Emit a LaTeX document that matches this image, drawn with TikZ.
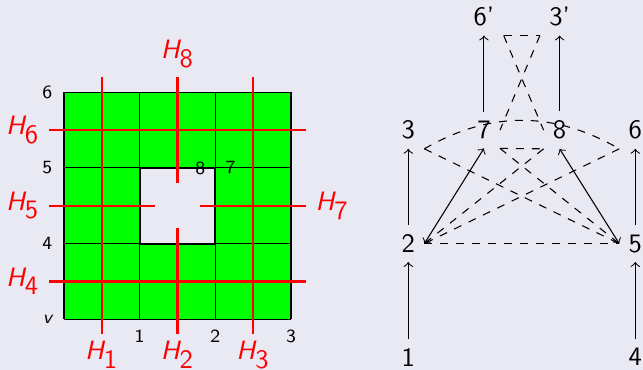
\documentclass[tikz,border=0pt]{standalone}
\usepackage{tikz}
\definecolor{slidebg}{RGB}{233,233,243}
\definecolor{cutred}{RGB}{255,0,0}
\newcommand{\cutname}[1]{$\textsf{\slshape H}_{\textsf{#1}}$}

\begin{document}
\begin{tikzpicture}[
  font=\sffamily,
  cut/.style={draw=cutred, line width=0.8pt},
  cutlabel/.style={text=cutred, font=\sffamily},
  tick/.style={font=\sffamily\fontsize{7}{8}\selectfont, inner sep=0pt},
  vert/.style={font=\sffamily},
  arrow/.style={->},
  dual/.style={dashed},
]
  % Background
  \fill[slidebg] (-0.846,-0.67) rectangle (7.652,4.22);
  \useasboundingbox (-0.846,-0.67) rectangle (7.652,4.22);

  % Green square with its hole
  \fill[green, even odd rule] (0,0) rectangle (3,3) (1,1) rectangle (2,2);
  \draw (0,0) grid (3,3);
  \draw[thick] (1,1) rectangle (2,2);

  % Tick labels
  \node[tick] (v) at (-0.22,0) {\slshape v};
  \foreach \i in {1,2,3} {
    \node[tick] (x\i) at (\i,-0.22) {\i};
  }
  \node[tick] (y4) at (-0.22,1) {4};
  \node[tick] (y5) at (-0.22,2) {5};
  \node[tick] (y6) at (-0.22,3) {6};
  \node[tick] (c8) at (1.8,2) {8};
  \node[tick] (c7) at (2.2,2) {7};

  % Cut lines
  \coordinate (b1) at (0.5,-0.2);  \coordinate (t1) at (0.5,3.2);
  \coordinate (b2) at (1.5,-0.2);  \coordinate (m2) at (1.5,1.2);
  \coordinate (b3) at (2.5,-0.2);  \coordinate (t3) at (2.5,3.2);
  \coordinate (l4) at (-0.2,0.5);  \coordinate (r4) at (3.2,0.5);
  \coordinate (l5) at (-0.2,1.5);  \coordinate (m5) at (1.2,1.5);
  \coordinate (l6) at (-0.2,2.5);  \coordinate (r6) at (3.2,2.5);
  \coordinate (m7) at (1.8,1.5);   \coordinate (r7) at (3.2,1.5);
  \coordinate (m8) at (1.5,1.8);   \coordinate (t8) at (1.5,3.2);
  \draw[cut] (t1) -- (b1);
  \draw[cut] (m2) -- (b2);
  \draw[cut] (t3) -- (b3);
  \draw[cut] (r4) -- (l4);
  \draw[cut] (m5) -- (l5);
  \draw[cut] (r6) -- (l6);
  \draw[cut] (m7) -- (r7);
  \draw[cut] (m8) -- (t8);
  \node[cutlabel, below=-1pt] (h1) at (b1) {\cutname{1}};
  \node[cutlabel, below=-1pt] (h2) at (b2) {\cutname{2}};
  \node[cutlabel, below=-1pt] (h3) at (b3) {\cutname{3}};
  \node[cutlabel, left] (h4) at (l4) {\cutname{4}};
  \node[cutlabel, left] (h5) at (l5) {\cutname{5}};
  \node[cutlabel, left] (h6) at (l6) {\cutname{6}};
  \node[cutlabel, right] (h7) at (r7) {\cutname{7}};
  \node[cutlabel, above] (h8) at (t8) {\cutname{8}};

  % Graph vertices
  \node[vert] (n1) at (4.55,-0.5) {1};
  \node[vert] (n2) at (4.55,1) {2};
  \node[vert] (n3) at (4.55,2.5) {3};
  \node[vert] (n4) at (7.55,-0.5) {4};
  \node[vert] (n5) at (7.55,1) {5};
  \node[vert] (n6) at (7.55,2.5) {6};
  \node[vert] (n7) at (5.55,2.5) {7};
  \node[vert] (n8) at (6.55,2.5) {8};
  \node[vert] (n6p) at (5.55,4) {6'};
  \node[vert] (n3p) at (6.55,4) {3'};

  % Solid edges
  \draw[arrow] (n1) -- (n2);
  \draw[arrow] (n2) -- (n3);
  \draw[arrow] (n4) -- (n5);
  \draw[arrow] (n5) -- (n6);
  \draw[arrow] (n7) -- (n6p);
  \draw[arrow] (n8) -- (n3p);
  \draw[<->] (n2.east) -- (n7.south);
  \draw[<->] (n5.west) -- (n8.south);

  % Dashed edges
  \draw[dual] (n2.east) -- (n5.west);
  \draw[dual] (n3.south east) -- (n5.west);
  \draw[dual] (n7.south east) -- (n5.west);
  \draw[dual] (n6.south west) -- (n2.east);
  \draw[dual] (n8.south west) -- (n2.east);
  \draw[dual] (n7.south east) -- (n8.south west);
  \draw[dual] (n3.south east) to[bend left] (n6.south west);
  \draw[dual] (n6p.south east) -- (n3p.south west);
  \draw[dual] (n6p.south east) -- (n8.west);
  \draw[dual] (n3p.south west) -- (n7.east);
\end{tikzpicture}
\end{document}
